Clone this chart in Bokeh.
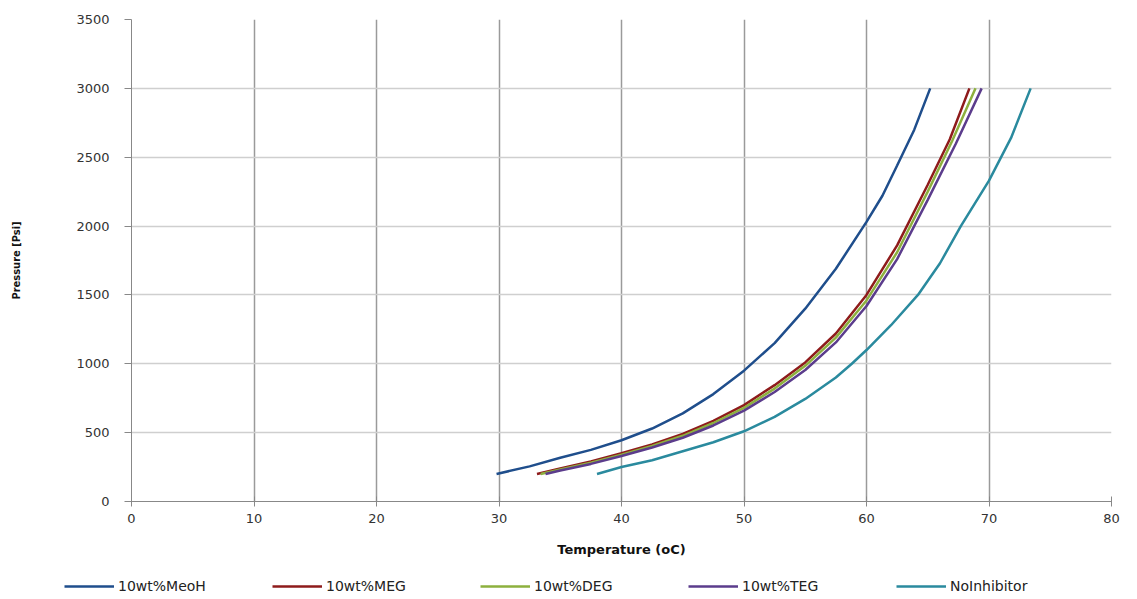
from bokeh.plotting import figure
from bokeh.models import Legend, LegendItem, FixedTicker, Range1d
from bokeh.layouts import column, row
from bokeh.embed import file_html
from bokeh.resources import INLINE

# Data (Temperature oC, Pressure Psi)
meoh_t = [29.8, 32.5, 35, 37.5, 40, 42.5, 45, 47.5, 50, 52.5, 55, 57.5, 60, 61.3, 62.5, 63.9, 65.2]
meoh_p = [200, 255, 318, 375, 445, 530, 640, 780, 950, 1150, 1400, 1690, 2030, 2220, 2440, 2700, 3000]

meg_t = [33.1, 35, 37.5, 40, 42.5, 45, 47.5, 50, 52.5, 55, 57.5, 60, 62.5, 65, 66.8, 68.4]
meg_p = [200, 240, 290, 350, 415, 490, 585, 700, 845, 1010, 1220, 1500, 1860, 2300, 2630, 3000]

deg_t = [33.4, 35, 37.5, 40, 42.5, 45, 47.5, 50, 52.5, 55, 57.5, 60, 62.5, 65, 67, 68.9]
deg_p = [200, 232, 282, 340, 403, 477, 570, 680, 820, 985, 1190, 1460, 1810, 2250, 2620, 3000]

teg_t = [33.8, 35, 37.5, 40, 42.5, 45, 47.5, 50, 52.5, 55, 57.5, 60, 62.5, 65, 67.3, 69.4]
teg_p = [200, 225, 273, 330, 392, 463, 552, 660, 795, 955, 1155, 1420, 1760, 2190, 2600, 3000]

noinh_t = [38, 40, 42.5, 45, 47.5, 50, 52.5, 55, 57.5, 58.8, 60, 62, 64.2, 66, 67.7, 70, 71.8, 73.4]
noinh_p = [200, 250, 300, 365, 430, 510, 615, 745, 900, 1000, 1100, 1280, 1500, 1730, 2000, 2330, 2640, 3000]

series_names = ["10wt%MeoH", "10wt%MEG", "10wt%DEG", "10wt%TEG", "NoInhibitor"]
series_colors = ["#1F4E8C", "#8E1B1B", "#8DB03E", "#5B3C8C", "#2A8A9E"]

x_ticks = [0, 10, 20, 30, 40, 50, 60, 70, 80]
y_ticks = [0, 500, 1000, 1500, 2000, 2500, 3000, 3500]

data = [(meoh_t, meoh_p), (meg_t, meg_p), (deg_t, deg_p), (teg_t, teg_p), (noinh_t, noinh_p)]

p = figure(width=1137, height=560, output_backend="svg", toolbar_location=None,
           x_range=Range1d(0, 80), y_range=Range1d(0, 3500),
           min_border_left=131, min_border_right=26, min_border_top=19, min_border_bottom=59)
p.outline_line_color = None
p.background_fill_color = "white"

for (t, pr), c in zip(data, series_colors):
    p.line(t, pr, line_color=c, line_width=2.5)

# Grid
p.xgrid.ticker = FixedTicker(ticks=x_ticks)
p.ygrid.ticker = FixedTicker(ticks=y_ticks)
p.xgrid.grid_line_color = "#9A9A9A"
p.xgrid.grid_line_width = 1.5
p.ygrid.grid_line_color = "#CFCFCF"
p.ygrid.grid_line_width = 1.5

font = "DejaVu Sans"
# X axis
p.xaxis.ticker = FixedTicker(ticks=x_ticks)
p.xaxis.axis_label = "Temperature (oC)"
p.xaxis.axis_label_text_font = font
p.xaxis.axis_label_text_font_style = "bold"
p.xaxis.axis_label_text_font_size = "13px"
p.xaxis.axis_label_text_color = "#111111"
p.xaxis.axis_label_standoff = 16
p.xaxis.major_label_text_font = font
p.xaxis.major_label_text_font_size = "13px"
p.xaxis.major_label_text_color = "#333333"
p.xaxis.major_label_standoff = 7
p.xaxis.major_tick_in = 5
p.xaxis.major_tick_out = 5
p.xaxis.minor_tick_line_color = None
p.xaxis.axis_line_color = "#888888"
p.xaxis.major_tick_line_color = "#888888"

# Y axis
p.yaxis.ticker = FixedTicker(ticks=y_ticks)
p.yaxis.axis_label = "Pressure [Psi]"
p.yaxis.axis_label_text_font = "DejaVu Sans Condensed"
p.yaxis.axis_label_text_font_style = "bold"
p.yaxis.axis_label_text_font_size = "11px"
p.yaxis.axis_label_text_color = "#111111"
p.yaxis.axis_label_standoff = 50
p.yaxis.major_label_text_font = font
p.yaxis.major_label_text_font_size = "13px"
p.yaxis.major_label_text_color = "#333333"
p.yaxis.major_label_standoff = 15
p.yaxis.major_tick_in = 0
p.yaxis.major_tick_out = 7
p.yaxis.minor_tick_line_color = None
p.yaxis.axis_line_color = "#888888"
p.yaxis.major_tick_line_color = "#888888"

# Legend strip below the chart (series drawn out of view so only the legend shows)
lf = figure(width=1137, height=39, output_backend="svg", toolbar_location=None,
            x_range=Range1d(1000, 1001), y_range=Range1d(0, 1),
            min_border_left=0, min_border_right=0, min_border_top=0, min_border_bottom=0)
lf.axis.visible = False
lf.grid.visible = False
lf.outline_line_color = None
leg_renderers = []
for (t, pr), c in zip(data, series_colors):
    leg_renderers.append(lf.line(t, pr, line_color=c, line_width=2.5))

items = [LegendItem(label=n, renderers=[r]) for n, r in zip(series_names, leg_renderers)]
legend = Legend(items=items, orientation="horizontal", location=(64, 5),
                label_text_font=font, label_text_font_size="14px", label_text_color="#222222",
                glyph_width=50, glyph_height=14, label_standoff=4, spacing=22,
                label_width=132, border_line_color=None, background_fill_alpha=0,
                padding=0, margin=0)
lf.add_layout(legend, "center")

open("out.html", "w").write(file_html(column(p, row(lf, spacing=0), spacing=0), INLINE))
